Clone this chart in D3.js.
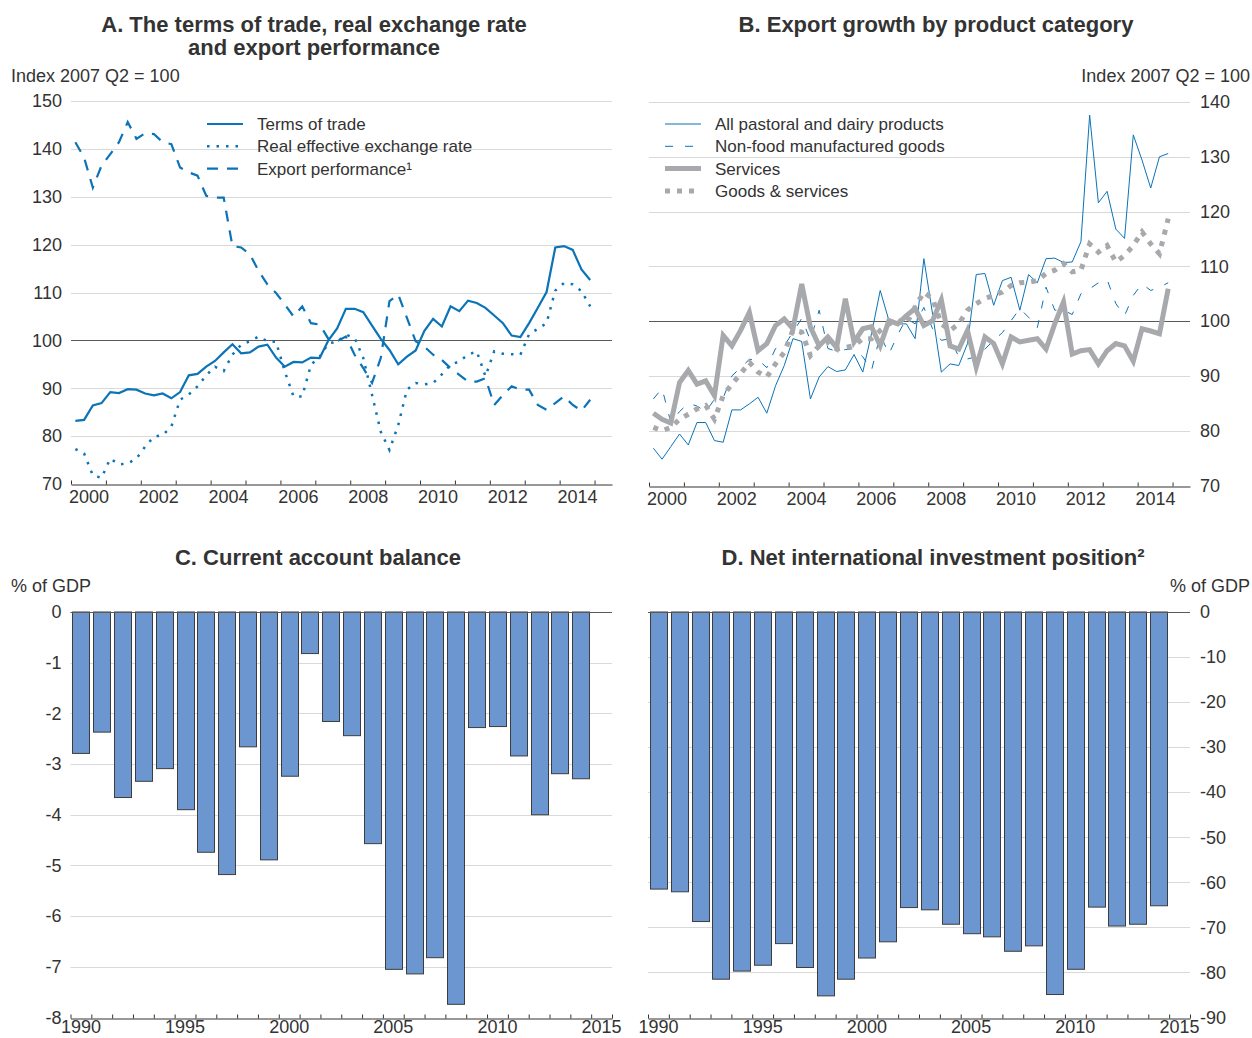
<!DOCTYPE html>
<html><head><meta charset="utf-8">
<script src="https://cdn.jsdelivr.net/npm/d3@7"></script>
<style>
body{margin:0;background:#fff}
text{font-family:"Liberation Sans",Arial,Helvetica,sans-serif;fill:#333}
</style>
</head><body>
<svg id="chart" width="1252" height="1038"></svg>
<script>
// ---------- DATA ----------
const quarters = d3.range(60).map(i => `${2000 + Math.floor(i / 4)}Q${i % 4 + 1}`);

const termsOfTrade = [83.2,83.4,86.4,86.9,89.2,89.0,89.8,89.7,88.9,88.5,
  88.9,87.9,89.2,92.7,93.0,94.5,95.7,97.5,99.2,97.3,
  97.5,98.7,99.1,96.4,94.5,95.5,95.4,96.4,96.3,100.0,
  102.5,106.6,106.6,105.9,103.1,100.3,98.0,95.0,96.6,97.9,
  102.0,104.5,102.9,107.1,106.1,108.3,107.8,106.8,105.2,103.6,
  101.0,100.7,103.6,106.8,110.1,119.4,119.7,118.9,114.8,112.6];

const realExchangeRate = [77.3,76.4,71.8,71.3,75.3,74.1,74.3,75.3,77.8,79.9,
  80.2,82.0,87.6,88.7,90.4,92.7,94.5,93.6,97.0,99.1,
  99.8,100.8,99.8,99.7,93.5,88.3,88.3,94.9,96.6,99.4,
  99.7,101.2,100.5,96.3,88.6,80.9,77.1,82.3,89.7,91.1,
  90.8,91.1,92.9,94.9,95.6,97.0,97.7,92.5,97.7,97.2,
  97.1,97.0,101.3,102.4,103.6,110.4,112.0,111.7,110.3,107.1];

const exportPerformance = [141.4,138.2,131.9,136.5,138.9,141.4,145.6,142.1,143.3,143.1,
  141.4,141.0,136.1,135.1,134.4,130.2,129.8,129.8,119.7,119.4,
  118.0,114.5,111.7,109.9,107.5,105.0,107.1,103.6,103.3,100.3,
  99.8,100.8,97.0,94.2,91.1,96.3,108.2,109.6,104.7,99.8,
  98.7,97.0,95.9,94.2,92.8,91.4,91.4,92.1,86.5,88.6,
  90.4,89.7,89.7,86.5,85.5,86.9,88.3,86.5,85.3,87.6];

const pastoralDairy = [76.8,74.8,77.1,79.4,77.4,81.5,81.5,78.2,77.9,83.8,
  83.8,84.9,86.1,83.2,88.2,91.9,96.8,96.3,85.8,89.8,
  91.7,90.8,91.1,93.9,90.7,97.7,105.6,100.1,99.5,99.5,
  96.8,111.4,101.3,90.7,92.2,91.9,95.9,108.5,108.7,102.9,
  107.4,108.0,102.0,108.5,107.0,111.4,111.5,110.7,110.8,114.5,
  137.6,121.6,123.7,116.8,115.1,134.0,129.4,124.3,130.0,130.6];

const nonFoodManufactured = [85.8,87.7,81.5,83.5,85.0,84.5,83.5,85.7,86.0,90.0,
  91.5,93.0,93.0,91.5,95.0,95.5,98.0,100.5,96.5,102.0,
  95.0,94.5,94.8,95.0,93.5,91.0,97.5,94.0,97.5,100.5,
  99.5,102.5,98.6,96.5,96.8,93.5,93.1,93.5,94.9,96.5,
  97.9,100.1,102.3,100.7,98.8,106.2,102.0,102.0,101.2,105.0,
  105.9,107.0,107.6,103.2,101.0,104.7,106.8,105.6,106.2,107.0];

const services = [83.2,82.1,81.4,88.8,91.0,88.5,89.1,86.4,97.4,95.5,
  98.3,101.6,94.6,95.9,99.2,100.4,98.6,106.8,98.9,95.5,
  97.1,95.2,104.1,96.2,98.6,99.0,95.5,100.1,99.5,101.0,
  102.3,99.2,100.1,103.9,95.5,94.9,98.3,91.6,97.1,95.9,
  92.2,97.1,96.2,96.5,96.8,94.9,99.5,103.5,94.0,94.6,
  94.8,92.2,94.6,95.9,95.5,92.7,98.6,98.2,97.7,105.9];

const goodsServices = [80.6,80.0,80.6,82.1,83.0,84.0,84.6,82.1,86.4,88.5,
  90.4,92.5,90.7,89.8,92.2,94.3,98.4,98.0,93.7,95.5,
  96.2,94.9,95.2,95.5,96.8,96.8,98.3,99.5,100.1,99.5,
  102.6,105.3,104.1,99.5,98.3,99.5,102.0,103.2,104.1,104.7,
  105.3,106.5,107.0,107.1,107.4,108.7,109.3,110.5,109.0,109.3,
  114.1,112.6,113.8,110.8,112.0,113.8,116.3,114.1,112.3,118.7];

const barYears = ["1990","1991","1992","1993","1994","1995","1996","1997","1998","1999",
  "2000","2001","2002","2003","2004","2005","2006","2007","2008","2009",
  "2010","2011","2012","2013","2014","2015"];

const currentAccount = [-2.79,-2.37,-3.66,-3.34,-3.09,-3.90,-4.74,-5.18,-2.66,-4.89,
  -3.24,-0.82,-2.16,-2.44,-4.57,-7.05,-7.14,-6.82,-7.74,-2.28,
  -2.26,-2.84,-4.00,-3.19,-3.29];

const netIIP = [-61.5,-62.1,-68.7,-81.5,-79.7,-78.4,-73.6,-78.9,-85.2,-81.5,
  -76.8,-73.2,-65.6,-66.1,-69.3,-71.4,-72.1,-75.3,-74.1,-84.9,
  -79.3,-65.5,-69.7,-69.3,-65.2];

const lineYearLabels = [2000,2002,2004,2006,2008,2010,2012,2014];
const barYearLabels = ["1990","1995","2000","2005","2010","2015"];
const ticksA = [70,80,90,100,110,120,130,140,150];
const ticksB = [70,80,90,100,110,120,130,140];
const ticksC = [0,-1,-2,-3,-4,-5,-6,-7,-8];
const ticksD = [0,-10,-20,-30,-40,-50,-60,-70,-80,-90];

const legendA = ["Terms of trade","Real effective exchange rate","Export performance\u00b9"];
const legendB = ["All pastoral and dairy products","Non-food manufactured goods","Services","Goods & services"];

// ---------- STYLES ----------
const BLUE = "#0b73b7", GREY = "#a7a9ac", GRID = "#d9d9d9", ZERO = "#5a5a5a", AXIS = "#333";
const TICK_FS = 18, LEG_FS = 17, TITLE_FS = 22;
const svg = d3.select("#chart");
const qPos = q => +q.slice(0, 4) + (+q[5] - 1) / 4 + 0.125;
const plain = d => String(d);

function title(lines, cx, y) {
  lines.forEach((t, i) => svg.append("text").attr("x", cx).attr("y", y + i * 23)
    .attr("text-anchor", "middle").attr("font-size", TITLE_FS).attr("font-weight", "bold").text(t));
}
function unitLabel(t, x, y, anchor) {
  svg.append("text").attr("x", x).attr("y", y).attr("text-anchor", anchor)
    .attr("font-size", TICK_FS).text(t);
}
function styleText(sel) {
  sel.selectAll("text").attr("font-size", TICK_FS).attr("fill", "#333").attr("font-family", null);
}

function linePanel(cfg) {
  const g = svg.append("g");
  const x = d3.scaleLinear().domain([2000, 2015.5]).range([cfg.x0, cfg.x1]);
  const y = d3.scaleLinear().domain(cfg.yDomain).range([cfg.yB, cfg.yT]);
  g.selectAll(".grid").data(cfg.ticks.filter(d => d !== cfg.yDomain[0])).join("line")
    .attr("x1", cfg.x0).attr("x2", cfg.x1)
    .attr("y1", d => Math.round(y(d)) + 0.5).attr("y2", d => Math.round(y(d)) + 0.5)
    .attr("stroke", d => d === 100 ? ZERO : GRID).attr("stroke-width", 1);
  const ya = (cfg.side === "left" ? d3.axisLeft(y) : d3.axisRight(y))
    .tickValues(cfg.ticks).tickSize(0).tickPadding(cfg.side === "left" ? 9 : 10).tickFormat(plain);
  const yg = g.append("g").attr("transform", `translate(${cfg.side === "left" ? cfg.x0 : cfg.x1},0)`).call(ya);
  yg.select(".domain").remove();
  styleText(yg);
  const xa = d3.axisBottom(x).tickValues(d3.range(2000, 2016)).tickSizeInner(-4).tickSizeOuter(0).tickFormat("");
  const xg = g.append("g").attr("transform", `translate(0,${Math.round(cfg.yB) + 0.5})`).call(xa);
  xg.select(".domain").attr("stroke", AXIS);
  xg.selectAll("line").attr("stroke", AXIS);
  const xl = d3.axisBottom(x).tickValues(lineYearLabels.map(d => d + 0.5)).tickSize(0).tickPadding(6)
    .tickFormat(d => String(Math.floor(d)));
  const xlg = g.append("g").attr("transform", `translate(0,${Math.round(cfg.yB)})`).call(xl);
  xlg.select(".domain").remove();
  styleText(xlg);
  const line = d3.line().x((d, i) => x(qPos(quarters[i]))).y(d => y(d));
  cfg.series.forEach(s => {
    g.append("path").datum(s.data).attr("d", line).attr("fill", "none")
      .attr("stroke", s.color).attr("stroke-width", s.width)
      .attr("stroke-dasharray", s.dash || null);
  });
  cfg.series.forEach((s, i) => {
    const ly = cfg.legY + i * 22.3;
    g.append("line").attr("x1", cfg.legX).attr("x2", cfg.legX + 36).attr("y1", ly).attr("y2", ly)
      .attr("stroke", s.color).attr("stroke-width", s.width).attr("stroke-dasharray", s.dash || null);
    g.append("text").attr("x", cfg.legX + 50).attr("y", ly + 6).attr("font-size", LEG_FS).text(s.name);
  });
}

function barPanel(cfg) {
  const g = svg.append("g");
  const x = d3.scaleBand().domain(barYears).range([cfg.x0, cfg.x1]).paddingInner(0.18).paddingOuter(0.09);
  const y = d3.scaleLinear().domain(cfg.yDomain).range([cfg.yB, cfg.yT]);
  g.selectAll(".grid").data(cfg.ticks.filter(d => d !== 0 && d !== cfg.yDomain[0])).join("line")
    .attr("x1", cfg.x0).attr("x2", cfg.x1)
    .attr("y1", d => Math.round(y(d)) + 0.5).attr("y2", d => Math.round(y(d)) + 0.5)
    .attr("stroke", GRID);
  const ya = (cfg.side === "left" ? d3.axisLeft(y) : d3.axisRight(y))
    .tickValues(cfg.ticks).tickSize(0).tickPadding(cfg.side === "left" ? 9 : 10).tickFormat(plain);
  const yg = g.append("g").attr("transform", `translate(${cfg.side === "left" ? cfg.x0 : cfg.x1},0)`).call(ya);
  yg.select(".domain").remove();
  styleText(yg);
  g.selectAll("rect").data(cfg.values).join("rect")
    .attr("x", (d, i) => Math.round(x(barYears[i])) + 0.5)
    .attr("width", Math.round(x.bandwidth()))
    .attr("y", y(0))
    .attr("height", d => y(d) - y(0))
    .attr("fill", "#6c96cf").attr("stroke", "#3d3d3d").attr("stroke-width", 1);
  g.append("line").attr("x1", cfg.x0).attr("x2", cfg.x1)
    .attr("y1", Math.round(y(0)) + 0.5).attr("y2", Math.round(y(0)) + 0.5).attr("stroke", ZERO);
  const edge = d3.scaleLinear().domain([0, barYears.length]).range([cfg.x0, cfg.x1]);
  const xa = d3.axisBottom(edge).tickValues(d3.range(barYears.length + 1)).tickSizeInner(-4).tickSizeOuter(0).tickFormat("");
  const xg = g.append("g").attr("transform", `translate(0,${Math.round(cfg.yB) + 0.5})`).call(xa);
  xg.select(".domain").attr("stroke", AXIS);
  xg.selectAll("line").attr("stroke", AXIS);
  const xl = d3.axisBottom(x).tickValues(barYearLabels).tickSize(0).tickPadding(2);
  const xlg = g.append("g").attr("transform", `translate(0,${Math.round(cfg.yB)})`).call(xl);
  xlg.select(".domain").remove();
  styleText(xlg);
}

// ---------- PANEL A ----------
title(["A. The terms of trade, real exchange rate", "and export performance"], 314, 32);
unitLabel("Index 2007 Q2 = 100", 11, 82, "start");
linePanel({
  x0: 71, x1: 612, yT: 101, yB: 484, yDomain: [70, 150], ticks: ticksA, side: "left",
  legX: 207, legY: 124,
  series: [
    {name: legendA[0], data: termsOfTrade, color: BLUE, width: 2.2},
    {name: legendA[1], data: realExchangeRate, color: BLUE, width: 2.5, dash: "2.5,7"},
    {name: legendA[2], data: exportPerformance, color: BLUE, width: 2.2, dash: "11,9"}
  ]
});

// ---------- PANEL B ----------
title(["B. Export growth by product category"], 936, 32);
unitLabel("Index 2007 Q2 = 100", 1250, 82, "end");
linePanel({
  x0: 649, x1: 1190, yT: 102, yB: 485.5, yDomain: [70, 140], ticks: ticksB, side: "right",
  legX: 665, legY: 124,
  series: [
    {name: legendB[0], data: pastoralDairy, color: BLUE, width: 1},
    {name: legendB[1], data: nonFoodManufactured, color: BLUE, width: 1, dash: "8,12"},
    {name: legendB[2], data: services, color: GREY, width: 5},
    {name: legendB[3], data: goodsServices, color: GREY, width: 5, dash: "5,7"}
  ]
});

// ---------- PANEL C ----------
title(["C. Current account balance"], 318, 565);
unitLabel("% of GDP", 11, 592, "start");
barPanel({x0: 70.5, x1: 612, yT: 612, yB: 1017.5, yDomain: [-8, 0], ticks: ticksC, side: "left",
  values: currentAccount});

// ---------- PANEL D ----------
title(["D. Net international investment position\u00b2"], 933, 565);
unitLabel("% of GDP", 1250, 592, "end");
barPanel({x0: 648, x1: 1190, yT: 612, yB: 1017.5, yDomain: [-90, 0], ticks: ticksD, side: "right",
  values: netIIP});
</script>
</body></html>
